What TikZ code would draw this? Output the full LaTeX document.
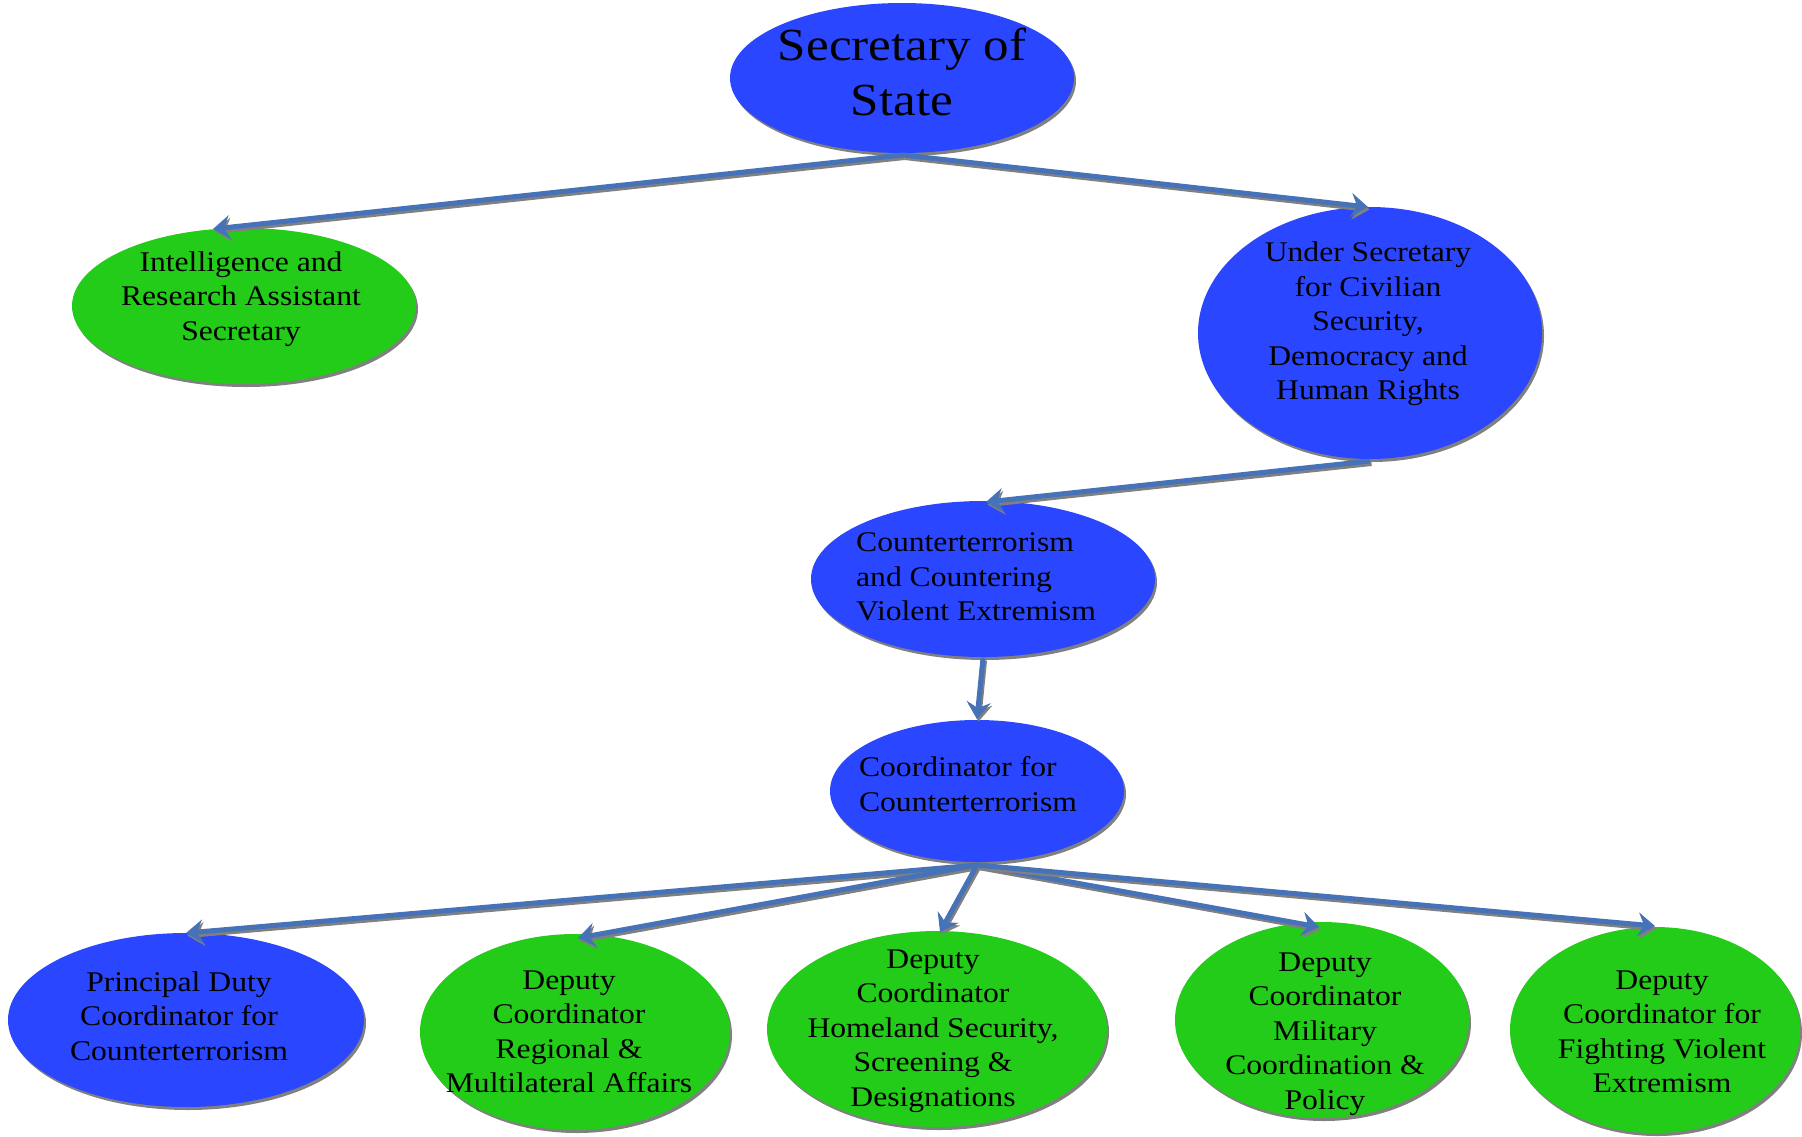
\documentclass[tikz,border=0pt]{standalone}
\usepackage{fontspec}
\setmainfont[FakeStretch=1.11]{Liberation Serif}
\usetikzlibrary{shapes.geometric,arrows.meta,shadows}
\definecolor{ovblue}{RGB}{42,70,255}
\definecolor{ovgreen}{RGB}{36,204,26}
\definecolor{arblue}{RGB}{70,114,184}
\definecolor{shgray}{RGB}{128,128,128}
\tikzset{
  oval/.style={ellipse, inner sep=0pt, draw=none,
    drop shadow={opacity=1, fill=shgray, shadow xshift=2pt, shadow yshift=-3pt}},
  bl/.style={oval, fill=ovblue},
  gr/.style={oval, fill=ovgreen},
  lbl/.style={align=center, font=\fontsize{28.5}{34.5}\selectfont, inner sep=0pt},
  lbll/.style={align=left, font=\fontsize{28.5}{34.5}\selectfont, inner sep=0pt},
  conn/.style={draw=arblue, line width=5pt,
    -{Stealth[length=17pt,width=24pt,inset=6pt]},
    preaction={draw=shgray, line width=5pt, -{Stealth[length=17pt,width=24pt,inset=6pt]},
      transform canvas={shift={(1.5pt,-2.5pt)}}}}
}
\begin{document}
\begin{tikzpicture}[x=1pt,y=-1pt]
\useasboundingbox (0,0) rectangle (1802,1136);
% ellipses
\node[bl, minimum width=344pt, minimum height=150pt] (sos) at (902,78) {};
\node[gr, minimum width=344pt, minimum height=156pt] (intel) at (244,306) {};
\node[bl, minimum width=344pt, minimum height=252pt] (usec) at (1370,333) {};
\node[bl, minimum width=344pt, minimum height=156pt] (ctcve) at (983,579) {};
\node[bl, minimum width=294pt, minimum height=142pt] (coord) at (977,791) {};
\node[bl, minimum width=356pt, minimum height=174pt] (pdc) at (186,1020) {};
\node[gr, minimum width=310pt, minimum height=196pt] (reg) at (575,1032) {};
\node[gr, minimum width=340pt, minimum height=196pt] (home) at (937,1029) {};
\node[gr, minimum width=294pt, minimum height=196pt] (mil) at (1322,1020) {};
\node[gr, minimum width=290pt, minimum height=206pt] (fight) at (1655,1030) {};
% texts
\node[align=center, font=\fontsize{46}{55}\selectfont, inner sep=0pt] (tsos) at (902,72) {Secretary of\\State};
\node[lbl] (tintel) at (241,299) {Intelligence and\\Research Assistant\\Secretary};
\node[lbl] (tusec) at (1368,324) {Under Secretary\\for Civilian\\Security,\\Democracy and\\Human Rights};
\node[lbll] (tctcve) at (976,577) {Counterterrorism\\and Countering\\Violent Extremism};
\node[lbll] (tcoord) at (968,784) {Coordinator for\\Counterterrorism};
\node[lbl] (tpdc) at (179,1016) {Principal Duty\\Coordinator for\\Counterterrorism};
\node[lbl] (treg) at (569,1032) {Deputy\\Coordinator\\Regional \&\\Multilateral Affairs};
\node[lbl] (thome) at (933,1031) {Deputy\\Coordinator\\Homeland Security,\\Screening \&\\Designations};
\node[lbl] (tmil) at (1325,1034) {Deputy\\Coordinator\\Military\\Coordination \&\\Policy};
\node[lbl] (tfight) at (1662,1032) {Deputy\\Coordinator for\\Fighting Violent\\Extremism};
% connectors
\coordinate (sosb) at (903,155);
\coordinate (inteltop) at (213,229);
\coordinate (usectop) at (1368,207);
\coordinate (usecb) at (1370,461);
\coordinate (ctcvetop) at (986,502);
\coordinate (ctcveb) at (983,658);
\coordinate (coordtop) at (977,719);
\coordinate (coordb) at (977,865);
\coordinate (pdctop) at (186,933);
\coordinate (regtop) at (578,938);
\coordinate (hometop) at (940,932);
\coordinate (miltop) at (1319,927);
\coordinate (fighttop) at (1655,926);
\draw[conn] (sosb) -- (inteltop);
\draw[conn] (sosb) -- (usectop);
\draw[conn] (usecb) -- (ctcvetop);
\draw[conn] (ctcveb) -- (coordtop);
\draw[conn] (coordb) -- (pdctop);
\draw[conn] (coordb) -- (regtop);
\draw[conn] (coordb) -- (hometop);
\draw[conn] (coordb) -- (miltop);
\draw[conn] (coordb) -- (fighttop);
\end{tikzpicture}
\end{document}
